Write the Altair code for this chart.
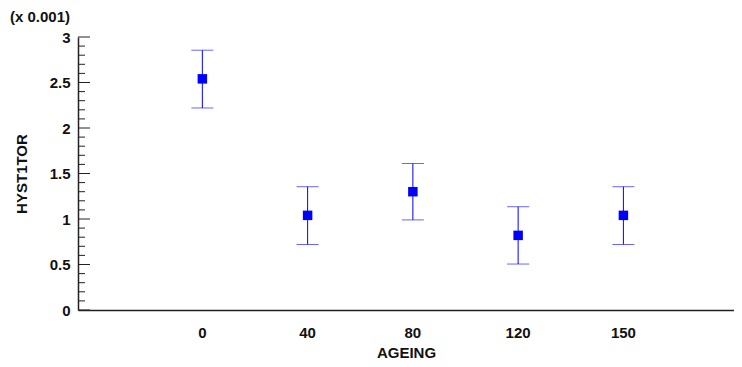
import altair as alt
import pandas as pd

ageing = ["0", "40", "80", "120", "150"]
mean = [2.54, 1.04, 1.30, 0.82, 1.04]
lower = [2.22, 0.72, 0.99, 0.505, 0.72]
upper = [2.855, 1.355, 1.61, 1.135, 1.355]

major_ticks = [0, 0.5, 1, 1.5, 2, 2.5, 3]
minor_ticks = [0.1, 0.2, 0.3, 0.4, 0.6, 0.7, 0.8, 0.9,
               1.1, 1.2, 1.3, 1.4, 1.6, 1.7, 1.8, 1.9,
               2.1, 2.2, 2.3, 2.4, 2.6, 2.7, 2.8, 2.9]

df = pd.DataFrame({"AGEING": ageing, "mean": mean, "lower": lower, "upper": upper})
df_major = pd.DataFrame({"v": major_ticks})
df_minor = pd.DataFrame({"v": minor_ticks})

FONT = "Liberation Sans"
BLUE = "#0000ff"

xenc = alt.X(
    "AGEING:N", sort=ageing,
    scale=alt.Scale(type="band", paddingInner=0, paddingOuter=0.616, align=0.553),
    axis=alt.Axis(title="AGEING", labelAngle=0, ticks=False, tickSize=0,
                  labelPadding=15, titlePadding=5),
)
yscale = alt.Scale(domain=[0, 3], nice=False, zero=True)
yaxis = alt.Axis(values=major_ticks, ticks=False, tickSize=0, grid=False,
                 title="HYST1TOR", labelPadding=8, titlePadding=20, format="~g")


def yenc(field):
    return alt.Y(field, type="quantitative", scale=yscale, axis=yaxis)


base = alt.Chart(df)

stems = base.mark_rule(color=BLUE, strokeWidth=1).encode(
    x=xenc, y=yenc("lower"), y2="upper:Q")
cap_lo = base.mark_tick(color=BLUE, size=22, thickness=1, opacity=0.6).encode(
    x=xenc, y=yenc("lower"))
cap_hi = base.mark_tick(color=BLUE, size=22, thickness=1, opacity=0.6).encode(
    x=xenc, y=yenc("upper"))
pts = base.mark_square(color=BLUE, size=90, opacity=1).encode(
    x=xenc, y=yenc("mean"))

maj = alt.Chart(df_major).mark_rule(color="#222222", strokeWidth=1).encode(
    y=yenc("v"), x=alt.value(0), x2=alt.value(12))
mino = alt.Chart(df_minor).mark_rule(color="#222222", strokeWidth=1).encode(
    y=yenc("v"), x=alt.value(0), x2=alt.value(7))

chart = alt.layer(maj, mino, stems, cap_lo, cap_hi, pts).properties(
    width=656, height=273,
    autosize=alt.AutoSizeParams(type="none"),
    padding={"left": 70, "top": 29, "right": 0, "bottom": 50},
    title=alt.TitleParams(text="(x 0.001)", anchor="start", frame="group", dx=-68,
                          offset=5, fontSize=15, fontWeight="bold", font=FONT,
                          color="#111111"),
).configure_view(stroke=None).configure_axis(
    domainColor="#222222", domainWidth=1.5,
    labelFont=FONT, labelFontSize=15, labelFontWeight="bold", labelColor="#111111",
    titleFont=FONT, titleFontSize=15, titleFontWeight="bold", titleColor="#111111",
)

chart.save("out.html", embed_options={"renderer": "svg", "actions": False})
